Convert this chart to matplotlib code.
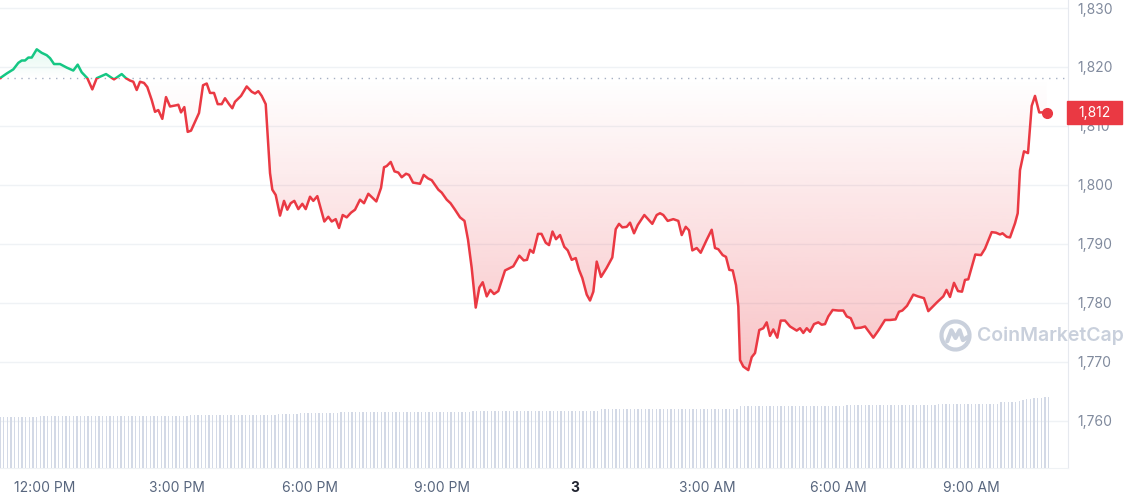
import numpy as np
import matplotlib
matplotlib.use("Agg")
import matplotlib.pyplot as plt
import matplotlib.transforms as mtransforms
from matplotlib.patches import Rectangle, Polygon, Arc

plt.rcParams['font.family'] = ['Inter', 'DejaVu Sans']

# hours after 12:00 PM (day 1) and ETH price
hours = [-0.955, -0.802, -0.652, -0.539, -0.461, -0.386, -0.311, -0.234, -0.120, -0.007,
         0.107, 0.182, 0.273, 0.409, 0.561, 0.711, 0.811, 0.902, 1.030, 1.143,
         1.243, 1.455, 1.636, 1.811, 1.909, 2.0, 2.075, 2.152, 2.227, 2.318,
         2.393, 2.493, 2.568, 2.643, 2.734, 2.818, 2.909, 3.045, 3.098, 3.159,
         3.234, 3.311, 3.386, 3.568, 3.659, 3.743, 3.818, 3.909, 3.993, 4.084,
         4.159, 4.25, 4.325, 4.386, 4.523, 4.652, 4.766, 4.841, 4.916, 4.993,
         5.084, 5.130, 5.182, 5.234, 5.311, 5.409, 5.5, 5.575, 5.652, 5.734,
         5.825, 5.916, 5.993, 6.091, 6.166, 6.257, 6.416, 6.507, 6.584, 6.675,
         6.75, 6.834, 6.925, 7.023, 7.114, 7.227, 7.318, 7.416, 7.598, 7.705,
         7.773, 7.834, 7.925, 8.011, 8.098, 8.175, 8.273, 8.341, 8.432, 8.591,
         8.675, 8.773, 8.857, 9.007, 9.084, 9.198, 9.284, 9.386, 9.5, 9.602,
         9.682, 9.766, 9.857, 9.939, 10.016, 10.107, 10.189, 10.273, 10.370, 10.523,
         10.711, 10.848, 10.948, 11.023, 11.091, 11.166, 11.273, 11.352, 11.448, 11.523,
         11.602, 11.682, 11.773, 11.870, 11.948, 12.039, 12.130, 12.205, 12.280, 12.380,
         12.455, 12.530, 12.607, 12.705, 12.830, 12.961, 13.039, 13.114, 13.189, 13.289,
         13.364, 13.455, 13.539, 13.689, 13.870, 13.970, 14.045, 14.120, 14.220, 14.348,
         14.461, 14.539, 14.630, 14.705, 14.780, 14.880, 14.970, 15.107, 15.220, 15.295,
         15.370, 15.470, 15.545, 15.620, 15.698, 15.773, 15.825, 15.864, 15.939, 16.052,
         16.130, 16.205, 16.302, 16.393, 16.470, 16.545, 16.620, 16.711, 16.789, 16.886,
         17.0, 17.152, 17.227, 17.302, 17.380, 17.455, 17.545, 17.643, 17.720, 17.795,
         17.870, 17.970, 18.098, 18.211, 18.289, 18.380, 18.477, 18.614, 18.705, 18.795,
         18.893, 19.007, 19.159, 19.273, 19.398, 19.477, 19.552, 19.659, 19.802, 19.909,
         20.045, 20.143, 20.341, 20.484, 20.557, 20.636, 20.727, 20.818, 20.909, 20.977,
         21.052, 21.211, 21.341, 21.432, 21.584, 21.682, 21.773, 21.830, 21.925, 22.0,
         22.061, 22.114, 22.175, 22.227, 22.318, 22.409, 22.493, 22.568, 22.664, 22.745,
         22.834]

prices = [1818.1, 1818.9, 1819.6, 1820.7, 1821.1, 1821.1, 1821.6, 1821.6, 1823.0, 1822.4,
          1822.0, 1821.5, 1820.5, 1820.5, 1819.9, 1819.4, 1820.4, 1819.1, 1818.1, 1816.2,
          1818.1, 1818.8, 1817.9, 1818.8, 1818.1, 1817.7, 1817.5, 1816.1, 1817.5, 1817.3,
          1816.6, 1814.4, 1812.4, 1812.7, 1811.2, 1814.9, 1813.3, 1813.5, 1813.6, 1812.3,
          1813.2, 1809.0, 1809.2, 1812.2, 1816.9, 1817.2, 1815.6, 1815.6, 1813.7, 1813.7,
          1814.7, 1813.7, 1813.0, 1814.1, 1815.1, 1816.7, 1815.8, 1815.5, 1815.9, 1815.1,
          1813.7, 1808.2, 1802.0, 1799.2, 1798.3, 1794.8, 1797.3, 1795.8, 1796.9, 1797.3,
          1795.9, 1796.8, 1795.9, 1798.0, 1797.3, 1798.1, 1793.8, 1794.6, 1793.8, 1794.2,
          1792.7, 1794.9, 1794.5, 1795.3, 1795.8, 1797.5, 1796.9, 1798.5, 1797.2, 1799.5,
          1803.0, 1803.2, 1803.9, 1802.3, 1802.1, 1801.3, 1801.9, 1801.7, 1800.4, 1800.2,
          1801.7, 1801.1, 1800.8, 1799.2, 1798.7, 1797.5, 1796.9, 1795.8, 1794.5, 1793.9,
          1790.7, 1785.9, 1779.2, 1782.6, 1783.5, 1781.1, 1782.2, 1781.5, 1782.0, 1785.5,
          1786.2, 1788.0, 1787.2, 1787.3, 1789.0, 1788.5, 1791.7, 1791.7, 1790.2, 1789.8,
          1792.1, 1790.8, 1791.5, 1789.5, 1788.9, 1787.3, 1787.6, 1785.6, 1784.2, 1781.4,
          1780.4, 1781.9, 1787.0, 1784.4, 1785.9, 1787.7, 1792.5, 1793.4, 1792.8, 1792.9,
          1793.6, 1791.8, 1793.2, 1794.9, 1793.4, 1794.9, 1795.2, 1794.9, 1793.9, 1794.2,
          1793.9, 1791.5, 1792.9, 1792.3, 1788.9, 1789.3, 1788.5, 1790.7, 1792.4, 1789.3,
          1789.1, 1788.1, 1787.8, 1785.6, 1785.5, 1783.0, 1779.4, 1770.3, 1769.2, 1768.6,
          1770.8, 1771.5, 1775.4, 1775.7, 1776.7, 1774.4, 1775.5, 1774.1, 1777.0, 1777.0,
          1776.0, 1775.3, 1775.7, 1774.9, 1775.7, 1775.1, 1776.4, 1776.7, 1776.3, 1776.4,
          1777.7, 1778.8, 1778.7, 1778.7, 1777.7, 1777.4, 1775.7, 1775.8, 1776.0, 1775.1,
          1774.1, 1775.3, 1777.1, 1777.1, 1777.2, 1778.5, 1778.7, 1779.5, 1781.4, 1781.1,
          1780.8, 1778.6, 1780.1, 1781.1, 1782.2, 1781.0, 1783.4, 1782.0, 1781.9, 1783.9,
          1784.0, 1788.2, 1788.1, 1789.2, 1792.0, 1791.9, 1791.6, 1791.8, 1791.2, 1791.1,
          1792.4, 1793.5, 1795.2, 1802.5, 1805.7, 1805.4, 1813.4, 1815.1, 1812.3, 1812.3,
          1812.2]

base_price = 1818.1   # opening price (dotted reference)

# 24h volume (arbitrary units), read as runs of equal bar heights, one bar per 5 min
vol_levels = [5.13, 5.2, 5.27, 5.33, 5.4, 5.5, 5.57, 5.75, 5.95, 6.25, 6.35, 6.45, 6.6,
              6.73, 6.8, 6.9, 6.95, 7.0, 7.02, 7.05, 7.07]
vol_runs = [11, 41, 6, 18, 6, 11, 36, 35, 38, 29, 25, 17, 5,
            1, 1, 1, 1, 1, 1, 1, 2]

y_ticks = [1760, 1770, 1780, 1790, 1800, 1810, 1820, 1830]
x_tick_pos = [0.06, 3.07, 6.08, 9.09, 12.10, 15.11, 18.11, 21.12]
x_tick_lab = ['12:00 PM', '3:00 PM', '6:00 PM', '9:00 PM', '3', '3:00 AM', '6:00 AM', '9:00 AM']

RED = '#ea3943'
GREEN = '#16c784'
GREY = '#808a9d'
GRID = '#eff2f5'
WM = '#c9d0dc'

x = np.array(hours)
y = np.array(prices)
xmin, xmax = -0.955, 23.318
ymin, ymax = 1752.0, 1831.36

fig = plt.figure(figsize=(11.25, 5), dpi=100)
ax = fig.add_axes([0, 32 / 500, 1068 / 1125, 468 / 500])
ax.set_xlim(xmin, xmax)
ax.set_ylim(ymin, ymax)


def gradient_area(ax, x, y, base, color, below, amax):
    # area between the line and the base price, shaded by a vertical gradient
    if below:
        yy = np.minimum(y, base)
        lo, hi = y.min(), base
    else:
        yy = np.maximum(y, base)
        lo, hi = base, y.max()
    verts = list(zip(x, yy)) + [(x[-1], base), (x[0], base)]
    poly = Polygon(verts, closed=True, fc='none', ec='none', transform=ax.transData)
    ax.add_patch(poly)
    rgb = matplotlib.colors.to_rgb(color)
    img = np.zeros((256, 1, 4))
    img[:, 0, :3] = rgb
    if below:
        img[:, 0, 3] = np.linspace(amax, 0, 256)
    else:
        img[:, 0, 3] = np.linspace(0, amax, 256)
    im = ax.imshow(img, extent=[x[0], x[-1], lo, hi], origin='lower',
                   aspect='auto', zorder=1, interpolation='bilinear')
    im.set_clip_path(poly)


gradient_area(ax, x, y, base_price, RED, True, 0.30)
gradient_area(ax, x, y, base_price, GREEN, False, 0.12)
ax.set_xlim(xmin, xmax)
ax.set_ylim(ymin, ymax)

# price line: red below the opening price, green above
lr, = ax.plot(x, y, color=RED, lw=1.8, zorder=4, solid_joinstyle='round')
lr.set_clip_path(Rectangle((xmin, ymin), xmax - xmin, base_price - ymin, transform=ax.transData))
lg, = ax.plot(x, y, color=GREEN, lw=1.8, zorder=4, solid_joinstyle='round')
lg.set_clip_path(Rectangle((xmin, base_price), xmax - xmin, ymax - base_price, transform=ax.transData))
ax.plot(x[-1], y[-1], 'o', ms=7, color=RED, zorder=5)

ax.axhline(base_price, color='#a6b0c3', lw=1, ls=(0, (1, 4)), zorder=2)

# volume bars
vol = np.repeat(vol_levels, vol_runs)
bar_x = x[0] + np.arange(len(vol)) * (5 / 60)
ax2 = ax.twinx()
ax2.set_ylim(0, 46.8)
ax2.bar(bar_x, vol, width=0.03, color='#d3d9e6', align='center', zorder=1)
ax2.set_xlim(xmin, xmax)
ax2.axis('off')

# axes styling
ax.yaxis.tick_right()
ax.set_yticks(y_ticks)
ax.set_yticklabels([f'{v:,}' for v in y_ticks])
ax.set_xticks(x_tick_pos)
ax.set_xticklabels(x_tick_lab)
ax.tick_params(axis='y', length=0, pad=7, labelsize=10, labelcolor=GREY)
ax.tick_params(axis='x', length=0, pad=9, labelsize=10, labelcolor='#58667e')
ax.xaxis.get_ticklabels()[4].set_fontweight('bold')
ax.xaxis.get_ticklabels()[4].set_color('#222531')
ax.grid(axis='y', color=GRID, lw=1)
ax.set_axisbelow(True)
for s in ['top', 'left']:
    ax.spines[s].set_visible(False)
ax.spines['right'].set_color('#e6e9ef')
ax.spines['bottom'].set_color(GRID)

# current price badge
trans = mtransforms.blended_transform_factory(ax.transAxes, ax.transData)
ax.add_patch(Rectangle((1067 / 1068, y[-1] - 1.95), 55 / 1068, 3.9, transform=trans,
                       color=RED, clip_on=False, zorder=6))
ax.text(1094.5 / 1068, y[-1], f'{y[-1]:,.0f}', transform=trans, color='white',
        fontsize=10, ha='center', va='center', zorder=7, clip_on=False)

# watermark
fig.text(977 / 1125, 1 - 336 / 500, 'CoinMarketCap', color=WM, fontsize=14,
         fontweight='semibold', ha='left', va='center')
lax = fig.add_axes([939 / 1125, 1 - 352 / 500, 33 / 1125, 33 / 500])
lax.set_xlim(-1, 1)
lax.set_ylim(-1, 1)
lax.axis('off')
lax.add_patch(Arc((0, 0), 1.7, 1.7, theta1=-35, theta2=325, color=WM, lw=3))
lax.plot([-0.5, -0.25, 0.0, 0.25, 0.45, 0.72], [-0.35, 0.32, -0.15, 0.32, -0.28, -0.1],
         color=WM, lw=3, solid_joinstyle='round', solid_capstyle='round')

fig.savefig('out.png', dpi=100)
